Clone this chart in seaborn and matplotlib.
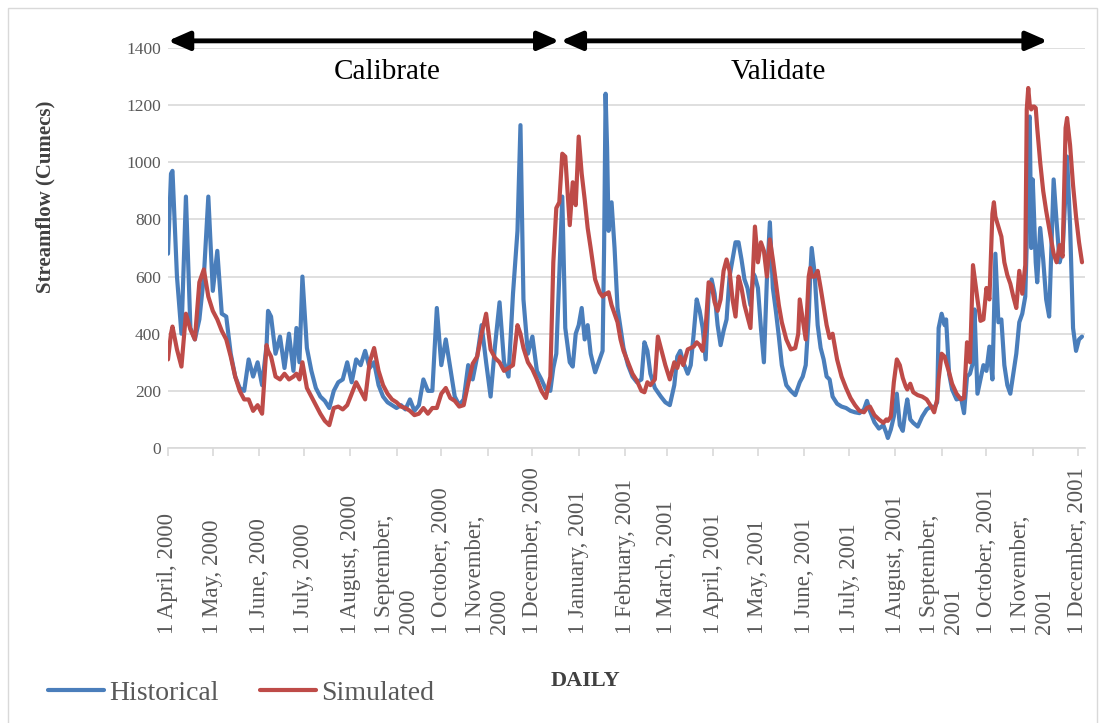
import pandas as pd
import matplotlib
matplotlib.use('Agg')
import matplotlib.pyplot as plt
import matplotlib.dates as mdates
import seaborn as sns
from matplotlib.patches import Rectangle

# -----------------------------
# data (days after 1 April 2000)
# -----------------------------
start = pd.Timestamp('2000-04-01')

day_offset = [
    0, 2, 3, 6, 9, 12, 15, 18, 21, 24, 27, 30, 33, 36, 39, 42, 45, 48, 51, 54, 57, 60, 63, 66, 67, 69,
    72, 75, 78, 81, 84, 86, 88, 90,
    93, 96, 99, 102, 105, 108, 111, 114, 117, 120, 123, 126, 129, 132, 135, 138, 141, 144, 147, 150,
    153, 156, 159, 162, 165, 168, 171, 174,
    177, 180, 183, 186, 189, 192, 195, 198, 201, 204, 207, 210, 213, 216, 219, 222, 225, 228, 231, 234,
    236, 238, 241, 244, 247, 250, 253, 256, 258, 260, 262, 264,
    266, 269, 271, 273, 275, 277, 279, 281, 283, 286, 289, 291, 292, 293, 294, 295, 297, 299, 301, 303,
    305, 308, 311, 314, 317, 319, 321, 323, 326, 328, 330, 333, 336, 339, 341, 343, 345, 348, 350, 352, 354,
    356, 358, 360, 362, 364, 366, 368, 370, 372, 374, 376, 378, 380, 382, 384, 386, 388, 390, 392, 393,
    395, 397, 399, 401, 403, 405, 407, 409, 411, 414, 417, 420, 422, 423, 425, 427, 429, 430, 431, 433,
    435, 437, 439, 441, 443,
    445, 448, 451, 454, 457, 460, 463, 466, 468, 470, 473, 476, 479, 481, 482, 484, 486, 488, 490, 492,
    494, 495, 497, 499, 502, 505, 508, 511, 513, 515, 516, 518, 520, 521, 523, 525, 528, 531,
    533, 535, 537, 539, 540, 542, 544, 546, 548, 550, 552, 553, 554, 556, 558, 560, 562, 564, 566, 568,
    570, 572, 574, 575, 576, 577, 578, 579, 580, 581, 582, 584, 586, 588, 590, 592, 593, 595, 597, 599,
    601, 602, 604, 606, 608, 610, 612,
]

historical = [
    680, 960, 970, 600, 400, 880, 420, 380, 450, 600, 880, 550, 690, 470, 460, 330, 250, 210, 200, 310,
    250, 300, 220, 360, 480, 460, 330, 390, 280, 400, 270, 420, 300, 600,
    350, 270, 210, 180, 165, 140, 200, 230, 240, 300, 230, 310, 290, 340, 280, 300, 220, 180, 160, 150,
    140, 150, 135, 170, 130, 150, 240, 200,
    200, 490, 290, 380, 280, 180, 150, 170, 290, 240, 320, 430, 300, 180, 360, 510, 300, 250, 540, 760,
    1130, 520, 330, 390, 270, 240, 205, 200, 280, 330, 600, 880,
    420, 300, 285, 400, 430, 490, 380, 430, 330, 265, 310, 340, 700, 1240, 1050, 760, 860, 700, 490, 420,
    350, 290, 250, 230, 240, 370, 340, 260, 210, 195, 180, 160, 150, 220, 320, 340, 300, 260, 290, 400, 520,
    480, 420, 310, 540, 590, 540, 430, 360, 410, 450, 600, 660, 720, 720, 660, 590, 560, 500, 610, 600,
    560, 420, 300, 590, 790, 560, 480, 390, 290, 220, 200, 185, 215, 230, 250, 290, 460, 600, 700, 610,
    430, 350, 310, 250, 240,
    180, 155, 145, 140, 130, 125, 122, 135, 165, 130, 90, 68, 80, 52, 35, 65, 110, 190, 80, 60,
    140, 170, 100, 88, 75, 110, 135, 146, 140, 160, 420, 470, 430, 450, 260, 205, 170, 175,
    122, 250, 260, 300, 485, 190, 240, 290, 270, 355, 240, 450, 680, 440, 450, 290, 220, 190, 260, 330,
    440, 470, 530, 720, 1140, 1160, 700, 940, 800, 650, 580, 770, 660, 520, 460, 780, 940, 790, 650, 690,
    900, 1020, 780, 420, 340, 380, 390,
]

simulated = [
    310, 400, 425, 345, 285, 470, 415, 380, 580, 625, 530, 480, 450, 410, 380, 320, 250, 200, 170, 170,
    130, 150, 120, 360, 340, 320, 250, 240, 260, 240, 250, 260, 240, 300,
    210, 180, 150, 120, 95, 80, 140, 145, 135, 150, 190, 230, 200, 170, 300, 350, 270, 220, 190, 170,
    160, 145, 140, 130, 115, 120, 140, 120,
    140, 140, 190, 210, 175, 165, 145, 150, 225, 295, 320, 400, 470, 345, 315, 300, 270, 280, 290, 430,
    400, 350, 300, 275, 240, 200, 175, 250, 650, 840, 860, 1030,
    1020, 780, 930, 850, 1090, 960, 870, 770, 700, 590, 545, 530, 535, 540, 540, 545, 500, 470, 440, 380,
    340, 300, 260, 235, 200, 195, 230, 220, 240, 390, 350, 290, 240, 300, 280, 320, 290, 345, 350, 355, 370,
    360, 340, 420, 580, 570, 510, 480, 520, 620, 660, 620, 520, 460, 600, 560, 500, 460, 420, 660, 775,
    650, 720, 690, 600, 730, 660, 580, 500, 440, 380, 345, 350, 400, 520, 450, 380, 600, 630, 600, 600,
    620, 560, 495, 430, 385,
    400, 310, 250, 210, 175, 150, 130, 125, 140, 145, 115, 100, 88, 100, 95, 110, 230, 310, 290, 245,
    215, 205, 225, 195, 185, 180, 170, 145, 125, 170, 240, 330, 320, 300, 265, 225, 190, 170,
    175, 370, 300, 640, 600, 520, 445, 450, 560, 520, 820, 860, 810, 775, 740, 650, 605, 575, 530, 490,
    620, 540, 640, 1185, 1260, 1200, 1185, 1195, 1195, 1190, 1120, 1000, 900, 830, 770, 710, 680, 650, 710, 670,
    1120, 1155, 1060, 920, 810, 720, 650,
]

assert len(day_offset) == len(historical) == len(simulated)

month_labels = [
    '1 April, 2000', '1 May, 2000', '1 June, 2000', '1 July, 2000', '1 August, 2000',
    '1 September,\n2000', '1 October, 2000', '1 November,\n2000', '1 December, 2000',
    '1 January, 2001', '1 February, 2001', '1 March, 2001', '1 April, 2001', '1 May, 2001',
    '1 June, 2001', '1 July, 2001', '1 August, 2001', '1 September,\n2001', '1 October, 2001',
    '1 November,\n2001', '1 December, 2001',
]
y_ticks = [0, 200, 400, 600, 800, 1000, 1200, 1400]

df = pd.DataFrame({
    'date': start + pd.to_timedelta(day_offset, unit='D'),
    'Historical': historical,
    'Simulated': simulated,
})

# -----------------------------
# plot
# -----------------------------
sns.set_theme(style='white')
plt.rcParams['font.family'] = ['Liberation Serif', 'DejaVu Serif']

W, H = 1104, 723
fig = plt.figure(figsize=(W / 100, H / 100), dpi=100)
ax = fig.add_axes([168 / W, 1 - 448 / H, (1085 - 168) / W, 400 / H])

sns.lineplot(data=df, x='date', y='Historical', ax=ax, color='#4A7EBB', lw=3.0, label='Historical')
sns.lineplot(data=df, x='date', y='Simulated', ax=ax, color='#BE4B48', lw=3.0, label='Simulated')

ax.set_xlim(start, start + pd.Timedelta(days=614))
ax.set_ylim(0, 1400)
ax.set_yticks(y_ticks)
ax.yaxis.grid(True, color='#D9D9D9', lw=1.2)
ax.set_axisbelow(True)
for s in ['left', 'right', 'top']:
    ax.spines[s].set_visible(False)
ax.spines['bottom'].set_color('#D9D9D9')
ax.spines['bottom'].set_linewidth(1.2)
ax.set_xlabel('')
ax.set_ylabel('')

month_starts = pd.date_range('2000-04-01', periods=len(month_labels), freq='MS')
ax.set_xticks(month_starts)
ax.tick_params(axis='x', bottom=True, length=6, width=1.2, color='#D9D9D9', labelbottom=False)
ax.tick_params(axis='y', left=False, length=0, pad=5, labelsize=12.5, labelcolor='#595959')

# rotated month labels, bottom aligned like the excel original
trans = ax.get_xaxis_transform()
for d, lab in zip(month_starts, month_labels):
    ax.text(mdates.date2num(d), (448 - 634) / 400, lab, transform=trans, rotation=90,
            ha='center', va='bottom', multialignment='left', fontsize=16.5, color='#595959')

fig.text(45 / W, 1 - 197 / H, 'Streamflow (Cumecs)', rotation=90, ha='center', va='center',
         fontsize=15, fontweight='bold', color='#404040')
fig.text(585 / W, 1 - 681 / H, 'DAILY', ha='center', va='center',
         fontsize=16, fontweight='bold', color='#404040')

# calibrate / validate arrows
arrow = dict(arrowstyle='<|-|>,head_length=0.8,head_width=0.35', color='black', lw=3.5,
             shrinkA=0, shrinkB=0, mutation_scale=16)
for a, b in [('2000-04-01', '2000-12-19'), ('2000-12-20', '2001-11-11')]:
    ax.annotate('', xy=(mdates.date2num(pd.Timestamp(b)), 1425),
                xytext=(mdates.date2num(pd.Timestamp(a)), 1425),
                arrowprops=arrow, annotation_clip=False)
ax.text(mdates.date2num(pd.Timestamp('2000-08-26')), 1316, 'Calibrate', ha='center', va='center',
        fontsize=21, color='black')
ax.text(mdates.date2num(pd.Timestamp('2001-05-15')), 1316, 'Validate', ha='center', va='center',
        fontsize=21, color='black')

# legend at bottom left
handles, labels = ax.get_legend_handles_labels()
ax.get_legend().remove()
fig.legend(handles, labels, loc='center left', bbox_to_anchor=(48 / W, 1 - 693 / H), ncol=2,
           frameon=False, fontsize=20, handlelength=2.0, handletextpad=0.2, columnspacing=1.5,
           borderpad=0, borderaxespad=0, labelcolor='#595959')

fig.add_artist(Rectangle((8 / W, -0.01), (1097 - 8) / W, (H - 8) / H + 0.01,
                         transform=fig.transFigure, fill=False, ec='#D9D9D9', lw=1))

fig.savefig('out.png', dpi=100)
